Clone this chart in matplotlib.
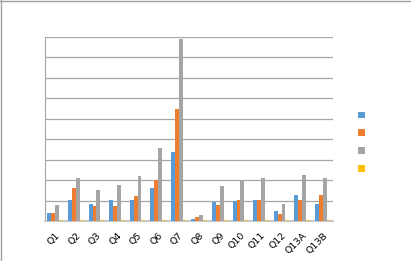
import matplotlib.pyplot as plt
import numpy as np
from matplotlib.patches import Patch
from matplotlib.lines import Line2D

# categories and series (gridline step = 10)
questions = ["Q1", "Q2", "Q3", "Q4", "Q5", "Q6", "Q7", "Q8", "Q9", "Q10", "Q11", "Q12", "Q13A", "Q13B"]
series_1 = [3.8, 10.2, 8.2, 10.2, 10.2, 15.9, 33.8, 1.1, 9.5, 9.7, 10.5, 5.1, 12.8, 8.4]
series_2 = [3.8, 15.9, 7.2, 7.5, 12.1, 20.0, 55.0, 1.8, 7.7, 10.3, 10.5, 3.6, 10.2, 12.8]
series_3 = [7.9, 21.0, 15.4, 17.5, 22.0, 35.7, 88.9, 2.8, 17.2, 19.5, 21.0, 8.5, 22.6, 21.0]
series_4 = [0, 0, 0, 0, 0, 0, 0, 0, 0, 0, 0, 0, 0, 0]

colors = ["#5B9BD5", "#ED7D31", "#A5A5A5", "#FFC000"]

fig = plt.figure(figsize=(4.11, 2.61), dpi=100)
ax = fig.add_axes([45 / 411, 1 - 221 / 261, 288 / 411, 184 / 261])

x = np.arange(len(questions))
w = 0.19
for k, (vals, c) in enumerate(zip([series_1, series_2, series_3, series_4], colors)):
    pos = x - 1.5 * w + k * w
    ax.bar(pos, vals, width=w, color=c, edgecolor="none", zorder=3)
    # thin sliver so the zero series still shows on the floor
    if k == 3:
        ax.bar(pos, [0.5] * len(vals), width=w, color=c, alpha=0.6, zorder=3)

ax.set_xlim(-0.5, len(questions) - 0.5)
ax.set_ylim(0, 90)
ax.set_yticks(np.arange(0, 91, 10))
ax.yaxis.grid(True, color="#a6a6a6", linewidth=0.9, zorder=0)
ax.tick_params(axis="y", length=0, labelleft=False)
ax.tick_params(axis="x", length=0, pad=7)
ax.set_xticks(x)
ax.set_xticklabels(questions, rotation=45, ha="right", rotation_mode="anchor", fontsize=6.8)
for s in ["top", "right"]:
    ax.spines[s].set_visible(False)
ax.spines["left"].set_color("#a6a6a6")
ax.spines["bottom"].set_color("#c8c8c8")
ax.spines["bottom"].set_linewidth(1.5)

handles = [Patch(facecolor=c, edgecolor="none") for c in colors]
fig.legend(handles, ["", "", "", ""], loc="center left", bbox_to_anchor=(350 / 411, 1 - 142 / 261),
           frameon=False, fontsize=6, handlelength=0.85, handleheight=0.85, labelspacing=1.05,
           handletextpad=0)

# chart area border (top and left only are visible)
fig.add_artist(Line2D([0, 1], [0.998, 0.998], transform=fig.transFigure, color="#a0a0a0", linewidth=1))
fig.add_artist(Line2D([0.003, 0.003], [0, 1], transform=fig.transFigure, color="#a0a0a0", linewidth=1))

fig.savefig("out.png", dpi=100)
